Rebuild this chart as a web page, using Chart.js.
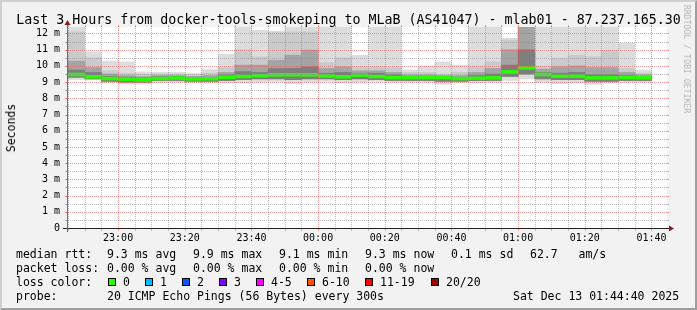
<!DOCTYPE html>
<html>
<head>
<meta charset="utf-8">
<script src="https://cdn.jsdelivr.net/npm/chart.js@4.4.1/dist/chart.umd.min.js"></script>
<style>
  html, body { margin: 0; padding: 0; background: #f2f2f2; }
  #wrap { position: relative; width: 697px; height: 310px; background: #f2f2f2; overflow: hidden;
          font-family: "DejaVu Sans Mono", monospace; color: #000; }
  #chart { position: absolute; left: 0; top: 0; }
  .frame { position: absolute; left: 0; top: 0; width: 697px; height: 310px; box-sizing: border-box;
           border-top: 2px solid #cfcfcf; border-left: 2px solid #cfcfcf;
           border-right: 2px solid #9e9e9e; border-bottom: 2px solid #9e9e9e; pointer-events: none; }
  .title { position: absolute; left: 0; width: 697px; top: 11.5px; text-align: center;
           font-size: 13.3px; line-height: 16px; white-space: pre; }
  .t { position: absolute; font-size: 11.5px; line-height: 14px; white-space: pre; }
  .sw { position: absolute; top: 278px; width: 8px; height: 8px; box-sizing: border-box; border: 1px solid #000; }
  .ylab { position: absolute; left: 11px; top: 127.5px; font-size: 11.5px; line-height: 14px; white-space: pre;
          transform: translate(-50%, -50%) rotate(-90deg); }
  .credit { position: absolute; left: 687px; top: 59px; font-size: 8.2px; line-height: 10px; color: #b4b4b4;
            white-space: pre; transform: translate(-50%, -50%) rotate(90deg); }
</style>
</head>
<body>
<div id="wrap">
  <canvas id="chart" width="697" height="310"></canvas>
  <div class="title">Last 3 Hours from docker-tools-smokeping to MLaB (AS41047) - mlab01 - 87.237.165.30</div>
  <div class="ylab">Seconds</div>
  <div class="credit">RRDTOOL / TOBI OETIKER</div>

  <div class="t" style="top:247px;left:16px">median rtt:</div>
  <div class="t" style="top:247px;left:107px">9.3 ms avg</div>
  <div class="t" style="top:247px;left:193px">9.9 ms max</div>
  <div class="t" style="top:247px;left:279px">9.1 ms min</div>
  <div class="t" style="top:247px;left:365px">9.3 ms now</div>
  <div class="t" style="top:247px;left:451px">0.1 ms sd</div>
  <div class="t" style="top:247px;left:530px">62.7   am/s</div>

  <div class="t" style="top:261px;left:16px">packet loss:</div>
  <div class="t" style="top:261px;left:107px">0.00 % avg</div>
  <div class="t" style="top:261px;left:193px">0.00 % max</div>
  <div class="t" style="top:261px;left:279px">0.00 % min</div>
  <div class="t" style="top:261px;left:365px">0.00 % now</div>

  <div class="t" style="top:275px;left:16px">loss color:</div>
  <div class="sw" style="left:108px;background:#26ff00"></div><div class="t" style="top:275px;left:123px">0</div>
  <div class="sw" style="left:145px;background:#00b8ff"></div><div class="t" style="top:275px;left:160px">1</div>
  <div class="sw" style="left:182px;background:#0059ff"></div><div class="t" style="top:275px;left:197px">2</div>
  <div class="sw" style="left:219px;background:#7e00ff"></div><div class="t" style="top:275px;left:234px">3</div>
  <div class="sw" style="left:256px;background:#ff00ff"></div><div class="t" style="top:275px;left:271px">4-5</div>
  <div class="sw" style="left:307px;background:#ff5500"></div><div class="t" style="top:275px;left:322px">6-10</div>
  <div class="sw" style="left:365px;background:#ff0000"></div><div class="t" style="top:275px;left:380px">11-19</div>
  <div class="sw" style="left:431px;background:#a00000"></div><div class="t" style="top:275px;left:446px">20/20</div>

  <div class="t" style="top:289px;left:16px">probe:</div>
  <div class="t" style="top:289px;left:107px">20 ICMP Echo Pings (56 Bytes) every 300s</div>
  <div class="t" style="top:289px;left:513px">Sat Dec 13 01:44:40 2025</div>

  <div class="frame"></div>
</div>
<script>
// 5 minute bins (start time), values in ms
const binTimes = ['22:45', '22:50', '22:55', '23:00', '23:05', '23:10', '23:15', '23:20', '23:25', '23:30',
  '23:35', '23:40', '23:45', '23:50', '23:55', '00:00', '00:05', '00:10', '00:15', '00:20',
  '00:25', '00:30', '00:35', '00:40', '00:45', '00:50', '00:55', '01:00', '01:05', '01:10',
  '01:15', '01:20', '01:25', '01:30', '01:35'];

const medianRtt = [9.47, 9.33, 9.22, 9.18, 9.14, 9.22, 9.25, 9.2, 9.21, 9.3,
  9.35, 9.4, 9.45, 9.45, 9.45, 9.38, 9.33, 9.43, 9.35, 9.28,
  9.28, 9.28, 9.28, 9.22, 9.24, 9.26, 9.63, 9.88, 9.47, 9.37,
  9.37, 9.26, 9.26, 9.28, 9.27];

const maxRtt = [12.6, 10.87, 10.3, 10.25, 9.63, 9.6, 9.6, 9.53, 9.78, 10.72,
  12.4, 12.2, 12.15, 12.6, 12.6, 12.6, 12.6, 10.66, 12.6, 12.6,
  9.75, 10.0, 10.25, 10.05, 12.6, 12.6, 11.7, 12.6, 12.5, 12.5,
  12.5, 12.5, 12.5, 11.4, 9.74];

const upper2 = [12.1, 10.5, 9.7, 9.55, 9.5, 9.5, 9.5, 9.45, 9.55, 9.9,
  11.0, 10.55, 12.05, 12.1, 12.1, 10.2, 10.5, 9.94, 9.95, 9.9,
  9.6, 9.6, 9.5, 9.6, 10.0, 10.25, 11.6, 12.6, 10.0, 10.46,
  10.66, 10.56, 10.97, 9.84, 9.55];

const upper3 = [10.3, 9.9, 9.5, 9.4, 9.35, 9.4, 9.4, 9.35, 9.4, 9.6,
  10.05, 10.05, 10.35, 10.66, 10.97, 9.85, 9.94, 9.7, 9.7, 9.6,
  9.45, 9.45, 9.4, 9.4, 9.6, 9.85, 11.0, 12.6, 9.8, 9.95,
  10.0, 9.9, 9.9, 9.6, 9.45];

const upper4 = [9.75, 9.6, 9.35, 9.3, 9.25, 9.33, 9.36, 9.3, 9.3, 9.45,
  9.65, 9.6, 9.84, 9.85, 9.94, 9.55, 9.6, 9.55, 9.55, 9.45,
  9.35, 9.36, 9.36, 9.3, 9.4, 9.5, 10.05, 11.0, 9.6, 9.55,
  9.6, 9.45, 9.45, 9.4, 9.35];

const lowerInner = [9.3, 9.2, 9.05, 9.0, 9.0, 9.1, 9.1, 9.05, 9.05, 9.1,
  9.15, 9.2, 9.2, 9.15, 9.2, 9.2, 9.15, 9.2, 9.15, 9.1,
  9.1, 9.1, 9.05, 9.05, 9.1, 9.1, 9.35, 9.5, 9.2, 9.15,
  9.15, 9.05, 9.05, 9.1, 9.1];

const minRtt = [9.15, 9.15, 8.95, 8.88, 8.9, 8.97, 9.0, 8.97, 8.95, 8.97,
  8.97, 9.0, 9.05, 8.9, 9.0, 9.05, 8.97, 9.0, 9.05, 9.0,
  9.0, 9.0, 8.87, 8.97, 8.97, 9.0, 9.1, 9.2, 9.0, 8.9,
  8.95, 8.85, 8.95, 9.0, 9.0];

const xLabels = ['23:00', '23:20', '23:40', '00:00', '00:20', '00:40', '01:00', '01:20', '01:40'];
const yLabels = ['0', '1 m', '2 m', '3 m', '4 m', '5 m', '6 m', '7 m', '8 m', '9 m', '10 m', '11 m', '12 m'];

const toMin = (s) => {
  const [h, m] = s.split(':').map(Number);
  return (h < 12 ? h + 24 : h) * 60 + m;
};
const fmt = (v) => {
  const m = Math.round(v) % 1440;
  return String(Math.floor(m / 60)).padStart(2, '0') + ':' + String(m % 60).padStart(2, '0');
};

const xStart = toMin('22:44') + 40 / 60;
const xEnd = xStart + 180;
const binMid = binTimes.map((t) => toMin(t) + 2.5);
const xTicks = binTimes.map(toMin).concat(toMin('01:40'));
const yTicks = Array.from({ length: 25 }, (_, i) => i / 2);

const MAJOR = 'rgba(222, 79, 79, 0.55)';
const MINOR = 'rgba(130, 130, 130, 0.5)';
const HALF_LINE = 0.09;

function band(lo, hi, color, order) {
  return {
    type: 'bar',
    order,
    grouped: false,
    data: binMid.map((x, i) => ({ x, y: [lo[i], hi[i]] })),
    backgroundColor: color,
    borderWidth: 0,
    barPercentage: 1,
    categoryPercentage: 1,
  };
}

const plotBackground = {
  id: 'plotBackground',
  beforeDraw(chart) {
    const { ctx, chartArea: a } = chart;
    ctx.save();
    ctx.fillStyle = '#ffffff';
    ctx.fillRect(a.left, a.top, a.right - a.left, a.bottom - a.top);
    ctx.restore();
  },
};

// 1 on / 1 off dotted line, pixel exact
function dotLine(ctx, x, y, len, horizontal) {
  for (let d = 0; d < len; d += 2) {
    if (horizontal) ctx.fillRect(x + d, y, 1, 1);
    else ctx.fillRect(x, y + d, 1, 1);
  }
}

// rrdtool style grid over the smoke, placed from the scales' own ticks
const dottedGrid = {
  id: 'dottedGrid',
  afterDatasetsDraw(chart) {
    const { ctx, chartArea: a, scales } = chart;
    const top = Math.round(a.top);
    const bottom = Math.round(a.bottom);
    const left = Math.round(a.left);
    const right = Math.round(a.right);
    ctx.save();
    scales.x.ticks.forEach((t) => {
      const px = Math.round(scales.x.getPixelForValue(t.value));
      ctx.fillStyle = xLabels.includes(fmt(t.value)) ? MAJOR : MINOR;
      dotLine(ctx, px, top - 1, bottom - top + 2, false);
      ctx.fillRect(px, bottom + 1, 1, 2);
      ctx.fillRect(px, top - 2, 1, 2);
    });
    scales.y.ticks.forEach((t) => {
      const py = Math.round(scales.y.getPixelForValue(t.value));
      ctx.fillStyle = Number.isInteger(t.value) ? MAJOR : MINOR;
      dotLine(ctx, left - 1, py, right - left + 2, true);
      ctx.fillRect(left - 2, py, 2, 1);
      ctx.fillRect(right, py, 2, 1);
    });
    ctx.restore();
  },
};

const axisArrows = {
  id: 'axisArrows',
  afterDraw(chart) {
    const { ctx, chartArea: a } = chart;
    const left = Math.round(a.left);
    const bottom = Math.round(a.bottom);
    const top = Math.round(a.top);
    const right = Math.round(a.right);
    ctx.save();
    ctx.fillStyle = '#222';
    ctx.fillRect(left - 4, bottom, right - left + 8, 1);
    ctx.fillStyle = '#6e6e6e';
    ctx.fillRect(left, top - 4, 1, bottom - top + 8);
    ctx.fillStyle = '#801f1f';
    ctx.beginPath();
    ctx.moveTo(right + 7, bottom + 0.5);
    ctx.lineTo(right + 2, bottom - 2.5);
    ctx.lineTo(right + 2, bottom + 3.5);
    ctx.closePath();
    ctx.fill();
    ctx.beginPath();
    ctx.moveTo(left + 0.5, top - 7);
    ctx.lineTo(left - 2.5, top - 2);
    ctx.lineTo(left + 3.5, top - 2);
    ctx.closePath();
    ctx.fill();
    ctx.restore();
  },
};

Chart.defaults.font.family = "'DejaVu Sans Mono', monospace";
Chart.defaults.font.size = 10;
Chart.defaults.color = '#000';

new Chart(document.getElementById('chart'), {
  type: 'bar',
  data: {
    datasets: [
      {
        type: 'bar',
        order: 0,
        grouped: false,
        data: binMid.map((x, i) => ({ x, y: [medianRtt[i] - HALF_LINE, medianRtt[i] + HALF_LINE] })),
        backgroundColor: '#26ff00',
        borderWidth: 0,
        barPercentage: 1,
        categoryPercentage: 1,
      },
      band(lowerInner, upper4, '#7e7e7e', 1),
      band(lowerInner, upper3, '#a4a4a4', 2),
      band(lowerInner, upper2, '#cacaca', 3),
      band(minRtt, maxRtt, '#dddddd', 4),
    ],
  },
  options: {
    responsive: false,
    animation: false,
    layout: { padding: { left: 0, top: 27, right: 30, bottom: 62 } },
    plugins: { legend: { display: false }, tooltip: { enabled: false } },
    scales: {
      x: {
        type: 'linear',
        offset: false,
        min: xStart,
        max: xEnd,
        afterBuildTicks: (s) => { s.ticks = xTicks.map((v) => ({ value: v })); },
        afterFit: (s) => { s.height = 20; },
        ticks: {
          autoSkip: false,
          maxRotation: 0,
          padding: 4,
          callback: (v) => (xLabels.includes(fmt(v)) ? fmt(v) : ''),
        },
        grid: { display: false, drawTicks: false },
        border: { display: false },
      },
      y: {
        type: 'linear',
        min: 0,
        max: 12.4,
        afterBuildTicks: (s) => { s.ticks = yTicks.map((v) => ({ value: v })); },
        afterFit: (s) => { s.width = 67; },
        ticks: {
          autoSkip: false,
          padding: 7,
          callback: (v) => (Number.isInteger(v) ? yLabels[v] : ''),
        },
        grid: { display: false, drawTicks: false },
        border: { display: false },
      },
    },
  },
  plugins: [plotBackground, dottedGrid, axisArrows],
});
</script>
</body>
</html>
